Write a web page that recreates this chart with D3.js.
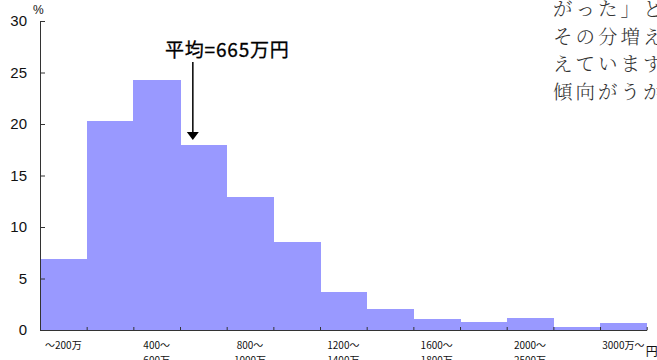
<!DOCTYPE html>
<html>
<head>
<meta charset="utf-8">
<script src="https://cdn.jsdelivr.net/npm/d3@7"></script>
<style>
  html, body { margin: 0; padding: 0; background: #fff; overflow: hidden; }
  svg { display: block; }
  .axis path, .axis line { stroke: #333; }
</style>
</head>
<body>
<div id="chart"></div>
<script>
// income bins (万円) and share of households (%)
var categories = ['～200万', '200～400万', '400～600万', '600～800万', '800～1000万',
                  '1000～1200万', '1200～1400万', '1400～1600万', '1600～1800万',
                  '1800～2000万', '2000～2500万', '2500～3000万', '3000万～'];
var shares = [6.9, 20.3, 24.3, 18.0, 12.9, 8.5, 3.7, 2.0, 1.1, 0.8, 1.2, 0.3, 0.7];
var yTicks = [0, 5, 10, 15, 20, 25, 30];
var meanLabel = '平均=665万円';
var bodyLines = ['がった」と', 'その分増え', 'えています', '傾向がうか'];

var width = 657, height = 360,
    jp = '"Noto Sans CJK JP", "Noto Sans", sans-serif';

var svg = d3.select('#chart').append('svg')
    .attr('width', width)
    .attr('height', height);

var x = d3.scaleLinear().domain([0, categories.length]).range([40, 646.7]),
    y = d3.scaleLinear().domain([0, 30]).range([330, 21]);

// bars
svg.append('g')
    .attr('shape-rendering', 'crispEdges')
    .selectAll('rect')
    .data(shares)
    .enter()
    .append('rect')
    .attr('x', function(d, i) { return x(i); })
    .attr('y', function(d) { return y(d); })
    .attr('width', function(d, i) { return x(i + 1) - x(i) + 0.5; })
    .attr('height', function(d) { return y(0) - y(d); })
    .attr('fill', '#9999ff');

// y axis, ticks pointing inward
var yAxis = d3.axisLeft(y)
    .tickValues(yTicks)
    .tickSizeInner(-5)
    .tickSizeOuter(0)
    .tickPadding(13);

svg.append('g')
    .attr('class', 'axis')
    .attr('transform', 'translate(' + x(0) + ',0)')
    .call(yAxis)
    .call(function(g) {
        g.selectAll('text')
            .style('font-family', '"Liberation Sans", Arial, sans-serif')
            .style('font-size', '15px')
            .attr('fill', '#111');
    });

// x axis, ticks on each bin boundary
var xAxis = d3.axisBottom(x)
    .tickValues(d3.range(categories.length + 1))
    .tickFormat('')
    .tickSizeInner(-3)
    .tickSizeOuter(0);

svg.append('g')
    .attr('class', 'axis')
    .attr('transform', 'translate(0,' + y(0) + ')')
    .call(xAxis);

// category labels on every other bin, split after the dash
var lab = svg.append('g')
    .style('font-family', jp)
    .style('font-size', '10px')
    .attr('fill', '#111')
    .attr('text-anchor', 'middle');

categories.forEach(function(c, i) {
    if (i % 2) return;
    var k = c.indexOf('～'),
        lines = (k > 0 && k < c.length - 1) ? [c.slice(0, k + 1), c.slice(k + 1)] : [c];
    var t = lab.append('text')
        .attr('x', (x(i) + x(i + 1)) / 2)
        .attr('y', 349);
    lines.forEach(function(line, j) {
        t.append('tspan')
            .attr('x', (x(i) + x(i + 1)) / 2)
            .attr('dy', j ? 15 : 0)
            .text(line);
    });
});

// units
svg.append('text')
    .attr('x', x(categories.length) - 1)
    .attr('y', 356)
    .style('font-family', jp)
    .style('font-size', '12px')
    .attr('fill', '#111')
    .text('円');

svg.append('text')
    .attr('x', 33)
    .attr('y', 14)
    .style('font-family', '"Liberation Sans Narrow", "Liberation Sans", sans-serif')
    .style('font-size', '12px')
    .attr('fill', '#111')
    .text('%');

// mean annotation
var ax = x(3.275);
svg.append('text')
    .attr('x', 165)
    .attr('y', 57)
    .style('font-family', jp)
    .style('font-size', '19px')
    .style('letter-spacing', '0.8px')
    .attr('fill', '#000')
    .attr('stroke', '#000')
    .attr('stroke-width', 0.3)
    .text(meanLabel);

svg.append('line')
    .attr('x1', ax).attr('x2', ax)
    .attr('y1', 62).attr('y2', 133)
    .attr('stroke', '#000')
    .attr('stroke-width', 1.5);

svg.append('path')
    .attr('d', 'M' + (ax - 6) + ',132L' + (ax + 6) + ',132L' + ax + ',140Z')
    .attr('fill', '#000');

// article text bleeding in at the top right
svg.append('g')
    .style('font-family', '"Noto Serif CJK JP", ' + jp)
    .style('font-size', '19.5px')
    .style('font-weight', 300)
    .style('letter-spacing', '3px')
    .attr('fill', '#333')
    .selectAll('text')
    .data(bodyLines)
    .enter()
    .append('text')
    .attr('x', 553)
    .attr('y', function(d, i) { return 16 + i * 27.5; })
    .text(function(d) { return d; });
</script>
</body>
</html>
